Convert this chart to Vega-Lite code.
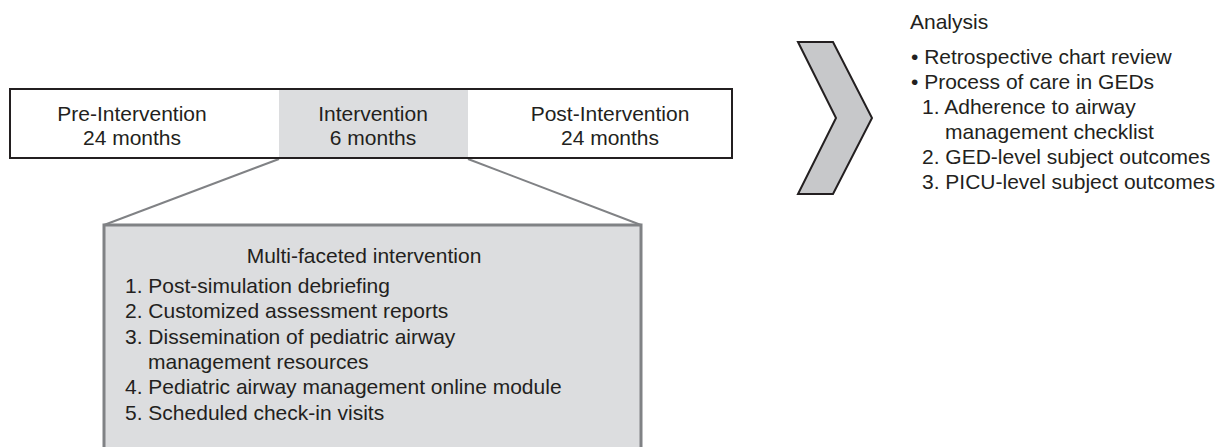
{
  "$schema": "https://vega.github.io/schema/vega-lite/v6.json",
  "width": 1227,
  "height": 447,
  "padding": 0,
  "autosize": {"type": "none"},
  "background": "#ffffff",
  "config": {"view": {"stroke": null}},
  "datasets": {
    "phases": [
      {"phase": "Pre-Intervention", "x": 10, "x2": 279, "top": 89, "bottom": 158},
      {"phase": "Intervention", "x": 279, "x2": 468, "top": 89, "bottom": 158},
      {"phase": "Post-Intervention", "x": 468, "x2": 732, "top": 89, "bottom": 158}
    ],
    "timeline": [{"x": 10, "x2": 732, "top": 89, "bottom": 158}],
    "detail": [{"x": 104, "x2": 641, "top": 225, "bottom": 470}],
    "connectors": [
      {"x": 279, "y": 159, "x2": 104, "y2": 225},
      {"x": 468, "y": 159, "x2": 641, "y2": 225}
    ],
    "chevron": [
      {"y": 42, "left": 798, "right": 833},
      {"y": 118, "left": 836, "right": 872},
      {"y": 194, "left": 798, "right": 833}
    ],
    "labels": [
      {"label": "Pre-Intervention", "x": 132, "y": 121, "align": "center"},
      {"label": "24 months", "x": 132, "y": 145, "align": "center"},
      {"label": "Intervention", "x": 373, "y": 121, "align": "center"},
      {"label": "6 months", "x": 373, "y": 145, "align": "center"},
      {"label": "Post-Intervention", "x": 610, "y": 121, "align": "center"},
      {"label": "24 months", "x": 610, "y": 145, "align": "center"},
      {"label": "Multi-faceted intervention", "x": 364, "y": 263, "align": "center"},
      {"label": "1. Post-simulation debriefing", "x": 125, "y": 293, "align": "left"},
      {"label": "2. Customized assessment reports", "x": 125, "y": 318, "align": "left"},
      {"label": "3. Dissemination of pediatric airway", "x": 125, "y": 343.5, "align": "left"},
      {"label": "management resources", "x": 148, "y": 369, "align": "left"},
      {"label": "4. Pediatric airway management online module", "x": 125, "y": 394, "align": "left"},
      {"label": "5. Scheduled check-in visits", "x": 125, "y": 419.5, "align": "left"},
      {"label": "Analysis", "x": 910, "y": 29, "align": "left"},
      {"label": "• Retrospective chart review", "x": 911, "y": 64, "align": "left"},
      {"label": "• Process of care in GEDs", "x": 911, "y": 89, "align": "left"},
      {"label": "1. Adherence to airway", "x": 922, "y": 114, "align": "left"},
      {"label": "management checklist", "x": 945, "y": 139, "align": "left"},
      {"label": "2. GED-level subject outcomes", "x": 922, "y": 164, "align": "left"},
      {"label": "3. PICU-level subject outcomes", "x": 922, "y": 189, "align": "left"}
    ]
  },
  "layer": [
    {
      "data": {"name": "phases"},
      "mark": {"type": "rect", "strokeWidth": 0},
      "encoding": {
        "x": {"field": "x", "type": "quantitative", "scale": {"domain": [0, 1227], "nice": false, "zero": false}, "axis": null},
        "x2": {"field": "x2"},
        "y": {"field": "top", "type": "quantitative", "scale": {"domain": [0, 447], "reverse": true, "nice": false, "zero": false}, "axis": null},
        "y2": {"field": "bottom"},
        "color": {"field": "phase", "type": "nominal", "scale": {"domain": ["Pre-Intervention", "Intervention", "Post-Intervention"], "range": ["#ffffff", "#dcdddf", "#ffffff"]}, "legend": null}
      }
    },
    {
      "data": {"name": "connectors"},
      "mark": {"type": "rule", "color": "#808285", "strokeWidth": 2},
      "encoding": {
        "x": {"field": "x", "type": "quantitative", "scale": {"domain": [0, 1227], "nice": false, "zero": false}, "axis": null},
        "x2": {"field": "x2"},
        "y": {"field": "y", "type": "quantitative", "scale": {"domain": [0, 447], "reverse": true, "nice": false, "zero": false}, "axis": null},
        "y2": {"field": "y2"}
      }
    },
    {
      "data": {"name": "detail"},
      "mark": {"type": "rect", "fill": "#dcdddf", "stroke": "#808285", "strokeWidth": 3, "clip": true},
      "encoding": {
        "x": {"field": "x", "type": "quantitative", "scale": {"domain": [0, 1227], "nice": false, "zero": false}, "axis": null},
        "x2": {"field": "x2"},
        "y": {"field": "top", "type": "quantitative", "scale": {"domain": [0, 447], "reverse": true, "nice": false, "zero": false}, "axis": null},
        "y2": {"field": "bottom"}
      }
    },
    {
      "data": {"name": "timeline"},
      "mark": {"type": "rect", "fillOpacity": 0, "stroke": "#231f20", "strokeWidth": 2},
      "encoding": {
        "x": {"field": "x", "type": "quantitative", "scale": {"domain": [0, 1227], "nice": false, "zero": false}, "axis": null},
        "x2": {"field": "x2"},
        "y": {"field": "top", "type": "quantitative", "scale": {"domain": [0, 447], "reverse": true, "nice": false, "zero": false}, "axis": null},
        "y2": {"field": "bottom"}
      }
    },
    {
      "data": {"name": "chevron"},
      "mark": {"type": "area", "orient": "horizontal", "fill": "#c7c8ca", "fillOpacity": 1, "stroke": "#231f20", "strokeWidth": 2, "strokeJoin": "miter"},
      "encoding": {
        "y": {"field": "y", "type": "quantitative", "scale": {"domain": [0, 447], "reverse": true, "nice": false, "zero": false}, "axis": null},
        "x": {"field": "left", "type": "quantitative", "scale": {"domain": [0, 1227], "nice": false, "zero": false}, "axis": null},
        "x2": {"field": "right"}
      }
    },
    {
      "data": {"name": "labels"},
      "transform": [{"filter": "datum.align === 'center'"}],
      "mark": {"type": "text", "align": "center", "baseline": "alphabetic", "font": "Liberation Sans", "fontSize": 21, "color": "#231f20"},
      "encoding": {
        "x": {"field": "x", "type": "quantitative", "scale": {"domain": [0, 1227], "nice": false, "zero": false}, "axis": null},
        "y": {"field": "y", "type": "quantitative", "scale": {"domain": [0, 447], "reverse": true, "nice": false, "zero": false}, "axis": null},
        "text": {"field": "label"}
      }
    },
    {
      "data": {"name": "labels"},
      "transform": [{"filter": "datum.align === 'left'"}],
      "mark": {"type": "text", "align": "left", "baseline": "alphabetic", "font": "Liberation Sans", "fontSize": 21, "color": "#231f20"},
      "encoding": {
        "x": {"field": "x", "type": "quantitative", "scale": {"domain": [0, 1227], "nice": false, "zero": false}, "axis": null},
        "y": {"field": "y", "type": "quantitative", "scale": {"domain": [0, 447], "reverse": true, "nice": false, "zero": false}, "axis": null},
        "text": {"field": "label"}
      }
    }
  ]
}
